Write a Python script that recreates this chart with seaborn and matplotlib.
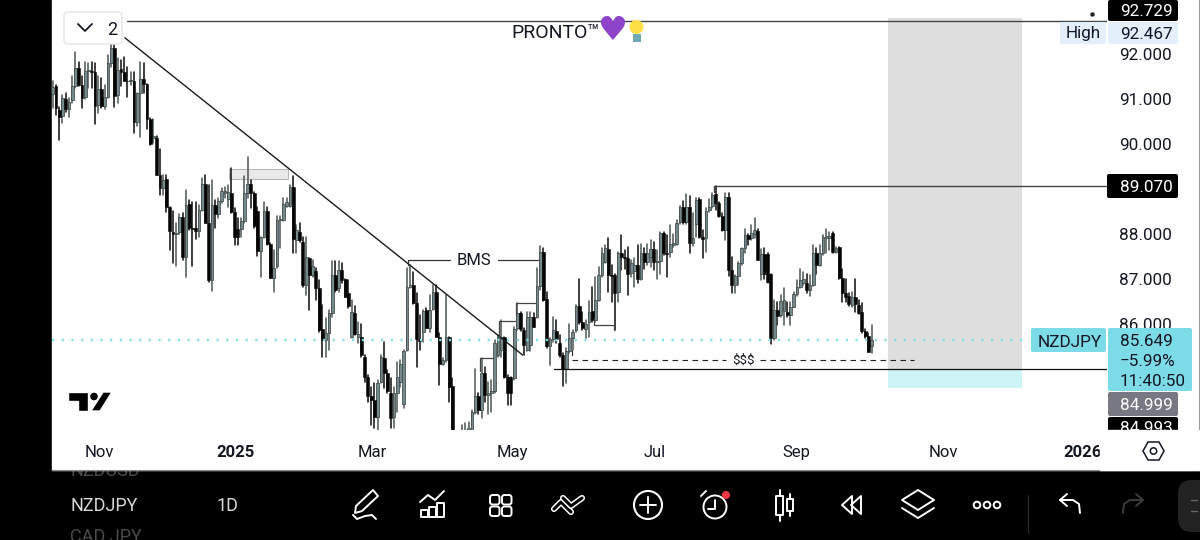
import numpy as np
import pandas as pd
import seaborn as sns
import matplotlib
matplotlib.use("Agg")
import matplotlib.pyplot as plt
from matplotlib.patches import Rectangle, Circle, Polygon, FancyBboxPatch

# daily candles
body_top = [
    91.26, 91.28, 90.76, 91.02, 90.99, 90.94, 91.29, 91.68, 91.68, 91.31,
    91.63, 91.65, 91.63, 91.61, 91.23, 91.23, 91.05, 91.79, 92.14, 92.14,
    91.65, 91.67, 91.61, 91.41, 91.42, 91.40, 91.14, 91.44, 91.44, 91.33, 90.55,
    90.18, 90.13, 89.31, 89.20, 89.22, 88.59, 88.05, 88.03, 88.37, 88.37,
    88.65, 88.66, 88.14, 88.13, 88.54, 89.11, 89.11, 88.25, 88.65, 88.65,
    88.74, 88.96, 88.96, 88.94, 88.91, 88.48, 88.11, 88.28, 88.91, 89.11, 89.11,
    88.91, 88.50, 87.93, 88.50, 88.50, 87.77, 87.25, 88.31, 88.33, 88.67, 88.70,
    89.05, 89.05, 88.09, 88.05, 87.83, 87.48, 87.46, 87.28, 87.18, 86.79,
    85.88, 85.79, 86.24, 87.09, 87.09, 87.21, 87.20, 87.00, 86.68, 86.27,
    86.25, 85.77, 85.72, 85.27, 84.83, 84.40, 84.31, 84.68, 85.27, 85.24,
    84.92, 84.46, 84.46, 84.83, 85.10, 85.39, 86.83, 86.87, 86.87, 86.47, 85.66,
    86.29, 86.31, 86.30, 86.70, 86.70, 85.72, 85.20, 85.72, 85.72, 84.62,
    83.35, 83.27, 83.57, 83.64, 83.68, 84.05, 84.39, 84.40, 84.92, 84.92,
    84.46, 84.50, 85.57, 85.72, 85.72, 85.72, 84.83, 84.83, 85.88, 86.24,
    86.24, 85.87, 86.16, 86.16, 86.15, 86.84, 87.59, 87.59, 86.55, 85.66,
    85.87, 85.85, 85.57, 85.31, 85.39, 85.68, 85.83, 86.39, 86.39, 86.05,
    86.01, 86.27, 86.29, 86.53, 87.09, 87.57, 87.68, 87.66, 87.09, 87.09,
    87.58, 87.58, 87.48, 87.46, 87.36, 87.32, 87.32, 87.58, 87.58, 87.58,
    87.66, 87.66, 87.41, 88.03, 88.03, 87.57, 87.78, 87.81, 88.25, 88.59,
    88.59, 88.61, 88.61, 87.90, 88.75, 88.77, 87.94, 88.52, 88.61, 88.86,
    88.89, 88.68, 88.40, 88.83, 88.83, 87.21, 87.06, 87.35, 87.68, 87.98,
    87.98, 88.03, 88.09, 88.07, 87.55, 87.55, 87.55, 87.11, 86.31, 86.31,
    86.52, 86.53, 86.27, 86.38, 86.66, 86.83, 86.98, 86.99, 86.90, 86.86,
    87.58, 87.58, 87.58, 87.94, 87.95, 87.95, 88.03, 87.68, 87.70, 87.03,
    86.68, 86.62, 86.61, 86.61, 86.42, 86.27, 85.85, 85.74, 85.64,
]
body_bottom = [
    91.11, 90.79, 90.61, 90.62, 90.77, 90.77, 90.97, 91.29, 91.31, 91.03,
    91.04, 91.62, 91.60, 90.85, 90.87, 90.85, 90.85, 91.05, 91.81, 91.07,
    91.08, 91.61, 91.40, 91.39, 91.39, 90.48, 90.48, 91.14, 91.34, 90.55, 90.00,
    90.13, 89.31, 89.02, 89.03, 88.59, 88.07, 88.00, 88.00, 88.05, 87.48,
    87.48, 88.13, 88.11, 88.07, 88.07, 88.54, 88.25, 86.97, 86.97, 88.44,
    88.45, 88.74, 88.90, 88.77, 88.48, 87.93, 87.94, 88.12, 88.28, 88.92, 88.92,
    88.17, 87.63, 87.63, 87.94, 87.77, 87.03, 87.03, 87.28, 88.30, 88.31, 88.62,
    88.62, 87.88, 87.87, 87.87, 86.87, 86.87, 87.09, 87.09, 86.79, 85.87,
    85.64, 85.64, 85.79, 86.24, 86.76, 86.79, 86.98, 86.61, 86.39, 85.72,
    85.78, 85.72, 85.31, 84.83, 84.40, 84.31, 83.94, 83.94, 84.72, 84.92,
    84.50, 83.90, 83.93, 84.46, 84.70, 84.22, 85.42, 86.83, 86.47, 85.66, 85.63,
    85.83, 85.92, 85.90, 86.33, 85.72, 85.11, 85.11, 85.20, 84.61, 83.20,
    82.90, 82.98, 83.27, 83.35, 83.46, 83.64, 84.05, 84.09, 84.09, 84.42,
    84.42, 84.46, 84.50, 85.31, 85.42, 84.83, 84.46, 84.46, 84.81, 85.90,
    85.88, 85.53, 85.42, 85.53, 85.94, 86.15, 86.84, 86.53, 85.50, 85.50,
    85.66, 85.66, 85.31, 84.99, 84.99, 85.39, 85.68, 85.87, 86.05, 85.90,
    85.89, 86.05, 86.09, 86.09, 86.53, 87.09, 87.38, 87.09, 87.06, 86.69,
    86.72, 87.48, 87.46, 87.12, 87.14, 87.18, 86.99, 87.01, 87.38, 87.38,
    87.48, 87.38, 87.38, 87.41, 87.57, 87.55, 87.61, 87.75, 87.78, 88.26,
    88.27, 88.27, 87.79, 87.81, 88.23, 87.94, 87.88, 87.90, 88.53, 88.62,
    88.68, 88.40, 88.09, 88.09, 87.21, 86.86, 86.86, 87.06, 87.35, 87.68,
    87.89, 87.90, 88.01, 87.43, 87.11, 87.11, 86.94, 85.68, 85.68, 86.18,
    86.20, 86.29, 86.20, 86.20, 86.38, 86.66, 86.83, 86.90, 86.75, 86.75,
    86.86, 87.31, 87.31, 87.57, 87.90, 87.90, 87.61, 87.61, 87.03, 86.68,
    86.61, 86.44, 86.43, 86.44, 86.25, 85.85, 85.74, 85.38, 85.51,
]
highs = [
    91.39, 91.31, 90.83, 91.09, 91.13, 91.02, 91.50, 92.05, 91.83, 91.50,
    91.83, 91.79, 91.83, 91.79, 91.50, 91.46, 91.31, 91.98, 92.40, 92.20,
    91.91, 91.87, 91.94, 91.72, 91.60, 91.61, 91.14, 91.83, 91.81, 91.33, 90.57,
    90.55, 90.18, 89.89, 89.31, 89.31, 88.61, 88.50, 88.24, 88.44, 88.46,
    88.98, 88.76, 88.72, 88.72, 88.65, 89.24, 89.31, 89.09, 89.20, 88.76,
    88.79, 89.02, 89.05, 89.09, 89.46, 88.57, 88.35, 88.35, 89.28, 89.72, 89.20,
    88.94, 88.61, 87.94, 88.72, 88.61, 87.79, 87.65, 88.39, 88.39, 88.79, 88.80,
    89.09, 89.28, 88.20, 88.24, 87.94, 87.94, 87.46, 87.42, 87.24, 86.98,
    86.42, 86.13, 86.31, 87.39, 87.39, 87.39, 87.35, 87.01, 86.98, 86.53,
    86.39, 86.05, 86.01, 85.31, 84.87, 84.61, 84.68, 84.76, 85.31, 85.61,
    84.98, 84.79, 84.61, 85.16, 85.20, 85.42, 87.24, 87.31, 87.16, 86.68, 86.20,
    86.31, 86.35, 86.64, 86.87, 86.87, 85.79, 85.24, 86.64, 85.72, 84.79,
    83.57, 83.53, 83.76, 83.81, 83.83, 84.09, 85.01, 84.46, 85.24, 85.05,
    84.72, 84.76, 85.64, 85.76, 86.09, 85.72, 84.87, 84.83, 85.94, 86.46,
    86.27, 85.90, 86.27, 86.27, 86.24, 87.24, 87.73, 87.68, 86.72, 85.68,
    86.16, 86.09, 85.76, 85.35, 85.46, 86.01, 85.87, 86.42, 87.01, 86.27,
    86.09, 86.50, 86.83, 87.05, 87.27, 87.68, 87.75, 87.90, 87.31, 87.12,
    87.61, 87.98, 87.64, 87.72, 87.42, 87.46, 87.75, 87.78, 87.68, 87.78,
    87.86, 87.83, 87.64, 88.05, 88.05, 87.98, 88.20, 88.01, 88.31, 88.62,
    88.74, 88.89, 88.84, 88.46, 88.79, 88.79, 88.09, 88.57, 88.77, 88.90,
    89.07, 88.72, 88.46, 88.90, 88.92, 87.49, 87.09, 87.38, 87.68, 88.12,
    88.01, 88.20, 88.35, 88.12, 87.66, 87.68, 87.57, 87.12, 86.53, 86.49,
    86.64, 86.79, 86.49, 86.49, 86.72, 86.98, 87.23, 87.16, 87.12, 87.09,
    87.75, 87.68, 87.75, 87.98, 88.10, 88.05, 88.05, 87.70, 87.72, 87.23,
    87.01, 86.68, 86.72, 86.99, 86.53, 86.46, 85.88, 85.79, 85.98,
]
lows = [
    90.79, 90.65, 90.09, 90.46, 90.72, 90.59, 90.91, 91.24, 91.28, 90.79,
    90.99, 91.25, 91.24, 90.45, 90.68, 90.79, 90.77, 91.02, 91.72, 90.83,
    90.91, 91.28, 91.39, 91.05, 91.30, 90.25, 90.39, 90.15, 91.13, 90.33, 89.98,
    90.02, 89.30, 88.87, 88.87, 88.48, 87.65, 87.35, 87.29, 88.00, 87.42,
    87.04, 88.09, 87.28, 87.88, 87.94, 88.50, 88.24, 86.94, 86.74, 88.13,
    88.35, 88.68, 88.80, 88.61, 88.46, 87.76, 87.76, 87.94, 88.24, 88.79, 88.57,
    88.13, 87.50, 87.05, 87.91, 87.76, 87.02, 86.70, 87.24, 87.68, 88.28, 88.60,
    88.61, 87.57, 87.57, 87.83, 86.83, 86.65, 86.31, 87.05, 86.54, 85.83,
    85.27, 85.27, 85.42, 86.16, 86.72, 86.72, 86.90, 86.61, 86.35, 85.68,
    85.76, 85.57, 85.27, 84.72, 84.27, 83.76, 83.68, 83.64, 84.68, 84.57,
    84.46, 83.68, 83.68, 84.05, 84.60, 84.13, 85.39, 86.79, 86.44, 85.05, 85.42,
    85.61, 85.90, 85.83, 86.30, 85.70, 84.64, 85.09, 85.16, 84.27, 83.05,
    82.68, 82.83, 83.20, 83.27, 83.35, 83.61, 84.01, 84.01, 83.90, 84.27,
    84.01, 84.05, 84.46, 85.27, 85.27, 84.79, 84.20, 84.20, 84.76, 85.87,
    85.85, 85.31, 85.39, 85.39, 85.93, 86.13, 86.76, 86.50, 85.46, 85.09,
    85.61, 85.57, 85.27, 84.62, 84.68, 85.35, 85.42, 85.83, 86.01, 85.87,
    85.68, 85.72, 86.05, 86.05, 86.50, 87.05, 87.35, 86.72, 86.49, 85.86,
    86.49, 87.20, 87.23, 86.64, 87.05, 86.83, 86.90, 86.98, 87.23, 87.31,
    87.27, 87.20, 87.01, 87.12, 87.53, 87.05, 87.48, 87.72, 87.75, 88.23,
    88.23, 88.23, 87.57, 87.73, 87.94, 87.90, 87.46, 87.61, 88.49, 88.57,
    88.53, 88.38, 88.07, 87.86, 87.06, 86.68, 86.68, 86.86, 87.31, 87.57,
    87.75, 87.86, 87.90, 87.42, 86.98, 87.01, 86.90, 85.55, 85.64, 85.98,
    86.16, 85.98, 86.16, 85.98, 86.37, 86.62, 86.81, 86.86, 86.68, 86.62,
    86.84, 87.12, 87.29, 87.53, 87.57, 87.64, 87.57, 87.57, 87.01, 86.49,
    86.49, 86.40, 86.38, 86.27, 86.22, 85.79, 85.68, 85.38, 85.35,
]
is_up = [
    1, 0, 0, 1, 0, 1, 1, 1, 0, 0, 1, 1, 0, 0, 1, 0, 1, 1, 1, 0,
    1, 0, 0, 0, 1, 0, 1, 1, 0, 0, 0, 1, 0, 0, 1, 0, 0, 0, 1, 1, 0,
    1, 0, 0, 0, 1, 1, 0, 0, 1, 0, 1, 1, 1, 1, 0, 0, 0, 1, 1, 1, 0,
    0, 0, 1, 1, 0, 0, 1, 1, 1, 1, 1, 1, 0, 1, 0, 0, 1, 0, 1, 0, 0,
    0, 1, 1, 1, 0, 1, 0, 0, 0, 1, 0, 1, 0, 0, 0, 0, 0, 1, 1, 0,
    0, 0, 1, 1, 1, 1, 1, 1, 0, 0, 0, 1, 0, 1, 1, 0, 0, 1, 1, 0, 0,
    0, 1, 1, 1, 1, 1, 1, 0, 1, 0, 1, 1, 1, 1, 1, 0, 0, 0, 1, 1,
    0, 0, 1, 1, 0, 1, 1, 0, 0, 1, 1, 0, 0, 0, 1, 1, 1, 1, 0, 0,
    1, 1, 0, 1, 1, 1, 1, 0, 0, 0, 1, 0, 0, 0, 1, 1, 0, 1, 0, 1,
    1, 0, 1, 1, 0, 0, 1, 1, 1, 1, 0, 1, 0, 1, 1, 0, 0, 1, 1, 1,
    0, 0, 0, 1, 0, 0, 1, 1, 1, 1, 0, 1, 1, 0, 1, 0, 0, 0, 1, 0,
    1, 1, 0, 1, 1, 1, 1, 1, 0, 1, 1, 0, 1, 1, 1, 1, 0, 1, 0, 0,
    0, 0, 1, 0, 0, 0, 0, 0, 1,
]

# time axis
tick_bars = [14.2, 56.1, 98.2, 141.3, 185.3, 228.7, 273.9, 317]
tick_labels = ["Nov", "2025", "Mar", "May", "Jul", "Sep", "Nov", "2026"]
price_ticks = [92, 91, 90, 88, 87, 86]

# price levels and drawings on the chart
swing_high = 92.729
range_high = 89.070
last_price = 85.649
swing_low = 84.999
liquidity = 85.20
zone_top = 92.80
zone_bottom = 84.58
trend_bars = [22.2, 144.6]
trend_prices = [92.36, 85.31]
bms_bars = [109.3, 109.3, 122.2]
bms_prices = [87.31, 87.42, 87.42]
bms_right_bars = [137.0, 149.3]
bracket_bars = [
    [131.5, 131.5, 135.5],
    [137.3, 137.3, 142.3],
    [142.6, 142.6, 148.4],
    [166.6, 166.6, 172.7, 172.7],
]
bracket_prices = [
    [84.96, 85.24, 85.24],
    [85.71, 86.07, 86.07],
    [86.20, 86.47, 86.47],
    [86.13, 85.98, 85.98, 85.87],
]

BLACK = "#000000"
INK = "#131722"
TEAL = "#7ddbe8"

sns.set_theme(style="white")
plt.rcParams["font.family"] = ["Roboto", "DejaVu Sans"]

n_bars = len(body_top)
bars = np.arange(n_bars)
up = np.array(is_up, dtype=bool)
top = np.array(body_top)
bottom = np.array(body_bottom)

wicks = pd.DataFrame({
    "bar": np.tile(bars, 2),
    "price": highs + lows,
    "kind": np.tile(np.where(up, "up", "down"), 2),
})

fig = plt.figure(figsize=(12, 5.4), dpi=100, facecolor=BLACK)

# app chrome behind the chart, drawn in screen pixels
back = fig.add_axes([0, 0, 1, 1], zorder=0)
back.set_xlim(0, 1200)
back.set_ylim(540, 0)
back.axis("off")
back.text(70, 471, "NZDUSD", color="#4a4a4a", fontsize=13, va="center", zorder=1)
back.text(70, 537, "CAD JPY", color="#4a4a4a", fontsize=13, va="center", zorder=1)
back.add_patch(Rectangle((52, 0), 1148, 470, color="white", zorder=2))
back.plot([52, 1200], [470, 470], color="#8a8a8a", lw=0.8, zorder=3)
back.plot([1199, 1199], [0, 470], color="#9a9a9a", lw=0.8, zorder=3)

ax = fig.add_axes([52 / 1200, 1 - 430 / 540, 1055 / 1200, 430 / 540], zorder=1)
ax.patch.set_alpha(0)
ax.set_xlim(-0.22, 324.4)
ax.set_ylim(83.644, 93.2)
for side in ax.spines.values():
    side.set_visible(False)

# entry zone
ax.axvspan(257, 298.2, ymin=(swing_low - 83.644) / 9.556, ymax=(zone_top - 83.644) / 9.556,
           color="#dedede", lw=0, zorder=1)
ax.axvspan(257, 298.2, ymin=(zone_bottom - 83.644) / 9.556, ymax=(swing_low - 83.644) / 9.556,
           color="#cdf3f6", lw=0, zorder=1)

# candles
sns.lineplot(data=wicks, x="bar", y="price", hue="kind", units="bar", estimator=None,
             palette={"up": "#505a5a", "down": "#141414"}, lw=1.15, legend=False,
             ax=ax, zorder=3)
ax.bar(bars[up], (top - bottom)[up], bottom=bottom[up], width=0.85, color="#74898b",
       edgecolor="#3f4948", lw=0.55, zorder=4)
ax.bar(bars[~up], (top - bottom)[~up], bottom=bottom[~up], width=0.9, color="#050505",
       edgecolor="#050505", lw=0.4, zorder=4)

# drawing tools
ax.plot([23, 324.4], [swing_high, swing_high], color="#444444", lw=1.0, zorder=5)
ax.plot([203.5, 203.5, 324.4], [88.94, range_high, range_high], color="#444444", lw=1.0, zorder=5)
ax.plot([154.3, 324.4], [swing_low, swing_low], color="#111111", lw=0.9, zorder=5)
ax.plot([159.7, 159.7, 207.2], [85.42, liquidity, liquidity], color="#222222", lw=0.8,
        ls=(0, (5, 4)), zorder=5)
ax.plot([217.6, 265], [liquidity, liquidity], color="#222222", lw=0.8, ls=(0, (5, 4)), zorder=5)
ax.text(212.4, liquidity, "$$$", fontsize=9.5, color=INK, ha="center", va="center", zorder=6)
sns.lineplot(x=trend_bars, y=trend_prices, color="#1a1a1a", lw=1.0, ax=ax, zorder=5)
ax.plot(bms_bars, bms_prices, color="#333333", lw=0.9, zorder=5)
ax.plot(bms_right_bars, [bms_prices[-1]] * 2, color="#333333", lw=0.9, zorder=5)
ax.text(129.6, bms_prices[-1], "BMS", fontsize=12, color=INK, ha="center", va="center", zorder=6)
for xs, ys in zip(bracket_bars, bracket_prices):
    ax.plot(xs, ys, color="#444444", lw=0.9, zorder=5)
ax.add_patch(Rectangle((54.2, 89.22), 18.2, 0.22, facecolor="#e9e9e9", edgecolor="#b5b5b5",
                       lw=0.7, zorder=2))
ax.plot([-0.22, 300.7], [last_price, last_price], color="#7fdfe0", lw=1.7, ls=(0, (0.9, 3.2)), zorder=5)

ax.set_xticks(tick_bars)
ax.set_xticklabels(tick_labels)
ax.set_xlabel("")
ax.set_ylabel("")
ax.yaxis.tick_right()
ax.set_yticks(price_ticks)
ax.set_yticklabels([f"{p:.3f}" for p in price_ticks])
ax.tick_params(axis="x", length=0, pad=10.5, labelsize=12, labelcolor=INK)
ax.tick_params(axis="y", length=0, pad=8.6, labelsize=12.3, labelcolor=INK)
for lab in ax.get_xticklabels():
    if lab.get_text().isdigit():
        lab.set_fontweight("bold")

# overlays in front of the chart, drawn in screen pixels
ov = fig.add_axes([0, 0, 1, 1], zorder=3)
ov.set_xlim(0, 1200)
ov.set_ylim(540, 0)
ov.axis("off")
ov.patch.set_alpha(0)


def box(x0, y0, x1, y1, color, z=2):
    ov.add_patch(FancyBboxPatch((x0 + 1, y0 + 1), x1 - x0 - 2, y1 - y0 - 2,
                                boxstyle="round,pad=1,rounding_size=2", fc=color, ec="none", zorder=z))


def label(x, y, s, color=INK, size=12.3, **kw):
    ov.text(x, y, s, color=color, fontsize=size, va="center_baseline", zorder=4, **kw)


# price labels
box(1108, 0, 1178, 21, BLACK)
label(1120, 10, "92.729", color="white")
ov.plot([1092], [13.5], marker="o", ms=2.2, color="#222222", zorder=3)
box(1060, 22, 1106, 44, "#e3effa")
box(1108, 22, 1178, 44, "#e3effa")
label(1066, 32, "High")
label(1120, 33, "92.467")
box(1107, 174, 1178, 198, BLACK)
label(1120, 186, "89.070", color="white")
box(1031, 328, 1106, 352, TEAL)
label(1038, 341, "NZDJPY")
box(1108, 328, 1192, 391, TEAL)
label(1120, 340, "85.649")
label(1120, 360, "\u22125.99%")
label(1120, 380, "11:40:50")
box(1108, 392, 1178, 416, "#787882")
label(1120, 404, "84.999", color="white")
box(1108, 417, 1178, 436, BLACK)
label(1120, 427, "84.993", color="white")
ov.add_patch(Rectangle((1100, 430), 98.5, 39.5, color="white", zorder=5))

# hexagon settings icon
ov.add_patch(Polygon([(1143, 451), (1148, 442), (1159, 442), (1164, 451), (1159, 460), (1148, 460)],
                     fc="white", ec=INK, lw=1.1, zorder=6))
ov.add_patch(Circle((1153.5, 451), 3.2, fc="white", ec=INK, lw=1.1, zorder=7))

# indicator toggle and note text
ov.add_patch(FancyBboxPatch((64, 12), 58, 32, boxstyle="round,pad=0,rounding_size=4",
                            fc="white", ec="#e2e3e6", lw=0.9, zorder=3))
ov.plot([78, 85, 92], [24, 31, 24], color=INK, lw=1.3, zorder=4)
label(107, 28, "2", size=13)
label(511, 31, "PRONTO\u2122", size=14)
ov.text(611.5, 30, "\u2665", color="#8e44c9", fontsize=24, family="DejaVu Sans",
        ha="center", va="center", zorder=4)
ov.add_patch(Circle((636.5, 27), 7, fc="#fde047", ec="none", zorder=4))
ov.add_patch(Rectangle((632.5, 34), 8, 7.5, fc="#6fa8b8", ec="none", zorder=4))

# TradingView logo
ov.add_patch(Polygon([(68, 392), (88, 392), (88, 411), (78, 411), (78, 401), (68, 401)], fc="black", zorder=4))
ov.add_patch(Circle((94, 396.5), 4.5, fc="black", zorder=4))
ov.add_patch(Polygon([(103, 392), (112, 392), (100, 411), (91, 411)], fc="black", zorder=4))

# bottom toolbar
label(70, 504, "NZDJPY", color="#d8d8d8", size=13)
label(216, 504, "1D", color="#d8d8d8", size=13)


def stroke(xs, ys, color="white", lw=1.4):
    ov.plot(xs, ys, color=color, lw=lw, solid_capstyle="round", solid_joinstyle="round", zorder=4)


def outline(pts):
    ov.add_patch(Polygon(pts, fc="none", ec="white", lw=1.4, joinstyle="round", zorder=4))


outline([(373, 490), (378, 496), (362, 511), (355, 513), (356, 506)])
stroke([353, 357, 365, 372, 376], [515, 519, 516, 515, 519])
stroke([420, 428, 435, 444], [502, 495, 500, 491])
for bx, by in [(421, 510), (429, 507), (437, 503)]:
    outline([(bx, by), (bx + 7, by), (bx + 7, 517), (bx, 517)])
for gx, gy in [(490, 495), (502, 495), (490, 506.5), (502, 506.5)]:
    ov.add_patch(FancyBboxPatch((gx, gy), 9.5, 9.5, boxstyle="round,pad=0,rounding_size=2.5",
                                fc="none", ec="white", lw=1.4, zorder=4))
for cx, cy in [([554, 561, 571], [509, 502, 512]), ([563, 571, 582], [498, 506, 498])]:
    stroke(cx, cy, lw=4.4)
    stroke(cx, cy, color=BLACK, lw=2.2)
ov.add_patch(Circle((648, 505), 14, fc="none", ec="white", lw=1.5, zorder=4))
stroke([640, 656], [505, 505])
stroke([648, 648], [497, 513])
ov.add_patch(Circle((715, 507), 11.5, fc="none", ec="white", lw=1.4, zorder=4))
stroke([715, 715, 708], [500, 509, 509])
stroke([701, 706], [496, 491])
ov.add_patch(Circle((726, 495), 4, fc="#f23645", ec="none", zorder=5))
outline([(776, 496), (783, 496), (783, 515), (776, 515)])
stroke([779.5, 779.5], [490, 496])
stroke([779.5, 779.5], [515, 521])
outline([(787, 499), (793, 499), (793, 511), (787, 511)])
stroke([790, 790], [494, 499])
stroke([790, 790], [511, 516])
outline([(842, 505), (852, 496), (852, 514)])
outline([(851, 505), (861, 496), (861, 514)])
outline([(918, 490), (934, 500), (918, 510), (902, 500)])
stroke([902, 918, 934], [508, 518, 508])
for dx in (977, 987, 997):
    ov.add_patch(Circle((dx, 505), 3.3, fc="none", ec="white", lw=1.4, zorder=4))
stroke([1028, 1028], [495, 533], color="#2e2e2e", lw=0.8)
stroke([1067, 1060, 1067], [494, 500, 506])
stroke([1060, 1073, 1079, 1080], [500, 500, 504, 513])
stroke([1136, 1143, 1136], [494, 500, 506], color="#3c3c3c")
stroke([1143, 1130, 1124, 1123], [500, 500, 504, 513], color="#3c3c3c")
ov.add_patch(FancyBboxPatch((1178, 480), 40, 52, boxstyle="round,pad=0,rounding_size=14",
                            fc="#222222", ec="none", zorder=3, clip_on=True))
stroke([1191, 1197], [500, 500], color="#666666", lw=1)
stroke([1191, 1197], [511, 511], color="#666666", lw=1)

fig.savefig("out.png", dpi=100, facecolor=BLACK)
